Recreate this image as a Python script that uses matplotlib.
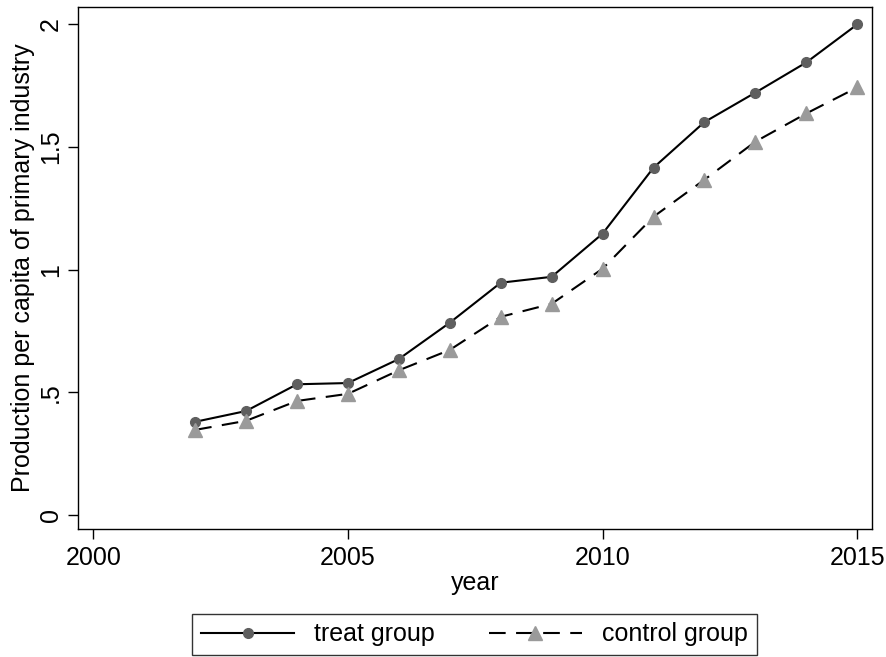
import matplotlib
matplotlib.use("Agg")
import matplotlib.pyplot as plt

plt.rcParams['font.family'] = ['Liberation Sans', 'DejaVu Sans']

years = [2002, 2003, 2004, 2005, 2006, 2007, 2008, 2009, 2010, 2011, 2012, 2013, 2014, 2015]
treat = [0.380, 0.424, 0.533, 0.538, 0.636, 0.784, 0.947, 0.971, 1.147, 1.416, 1.602, 1.722, 1.845, 2.000]
control = [0.347, 0.384, 0.465, 0.494, 0.590, 0.673, 0.808, 0.861, 1.004, 1.216, 1.367, 1.522, 1.637, 1.743]
xticks = [2000, 2005, 2010, 2015]
yticks = [0, 0.5, 1, 1.5, 2]
ytick_labels = ["0", ".5", "1", "1.5", "2"]

fs = 18
W, H = 887, 657
fig = plt.figure(figsize=(W/100, H/100), dpi=100)
L, R, T, B = 78, 872, 7, 529
ax = fig.add_axes([L/W, 1-B/H, (R-L)/W, (B-T)/H])

ax.plot(years, treat, color='black', lw=1.5, marker='o', ms=7,
        mfc='#5f5f5f', mec='#5f5f5f', label='treat group')
ax.plot(years, control, color='black', lw=1.5, ls=(0, (8, 5)), marker='^', ms=10,
        mfc='#9a9a9a', mec='#9a9a9a', label='control group')

ax.set_xlim(1999.70, 2015.29)
ax.set_ylim(-0.057, 2.071)
ax.set_xticks(xticks)
ax.set_xticklabels([str(t) for t in xticks], fontsize=fs)
ax.set_yticks(yticks)
ax.set_yticklabels(ytick_labels, fontsize=fs, rotation=90, va='center')
ax.tick_params(direction='out', length=7, width=1, colors='black')
ax.tick_params(axis='x', pad=5)
ax.tick_params(axis='y', pad=4)
for s in ax.spines.values():
    s.set_linewidth(1)
ax.set_xlabel('year', fontsize=fs, labelpad=1)
ax.set_ylabel('Production per capita of primary industry', fontsize=fs, labelpad=3)

leg = fig.legend(loc='lower center', bbox_to_anchor=(474.5/W, 2/H), ncol=2, fontsize=fs,
                 frameon=True, fancybox=False, edgecolor='black', handlelength=3.72,
                 handletextpad=0.8, columnspacing=2.16, borderpad=0.35, borderaxespad=0)
leg.get_frame().set_linewidth(1)

fig.savefig('out.png', dpi=100)
